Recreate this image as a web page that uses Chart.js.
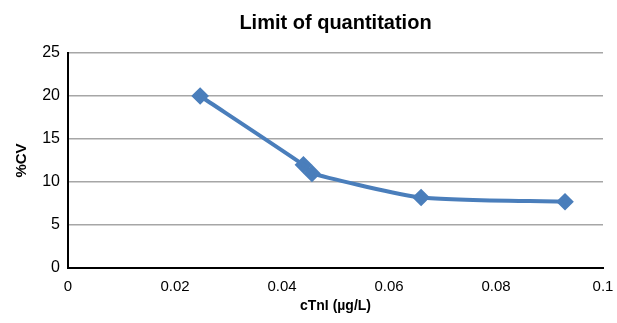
<!DOCTYPE html>
<html>
<head>
<meta charset="utf-8">
<script src="https://cdn.jsdelivr.net/npm/chart.js@4/dist/chart.umd.min.js"></script>
<style>
  html, body { margin: 0; padding: 0; background: #fff; }
  #wrap { width: 617px; height: 323px; }
</style>
</head>
<body>
<div id="wrap"><canvas id="locChart" width="617" height="323"></canvas></div>
<script>
const concentration = [0.0247, 0.0440, 0.0456, 0.0660, 0.0929];
const cvPercent = [20, 12, 11, 8.2, 7.7];
const xTicks = [0, 0.02, 0.04, 0.06, 0.08, 0.1];
const yTicks = [0, 5, 10, 15, 20, 25];

const points = concentration.map((x, i) => ({ x, y: cvPercent[i] }));
const lineBlue = '#4A7EBB';
const font = 'Liberation Sans, Arial, sans-serif';

const ctx = document.getElementById('locChart').getContext('2d');
new Chart(ctx, {
  type: 'scatter',
  data: {
    datasets: [
      {
        label: '%CV',
        data: points,
        showLine: true,
        borderColor: lineBlue,
        backgroundColor: lineBlue,
        borderWidth: 4,
        tension: 0.2,
        pointStyle: 'rectRot',
        pointRadius: 6,
        pointHoverRadius: 6,
      },
    ],
  },
  options: {
    responsive: false,
    animation: false,
    layout: { padding: { left: 0, right: 14, top: 0, bottom: 0 } },
    plugins: {
      legend: { display: false },
      tooltip: { enabled: false },
      title: {
        display: true,
        fullSize: false,
        text: 'Limit of quantitation',
        color: '#000',
        font: { family: font, size: 20, weight: 'bold' },
        padding: { top: 11, bottom: 18 },
      },
    },
    scales: {
      x: {
        type: 'linear',
        min: 0,
        max: 0.1,
        afterBuildTicks: (axis) => { axis.ticks = xTicks.map(v => ({ value: v })); },
        afterFit: (axis) => { axis.height = 55; axis.paddingRight = 0; },
        grid: { display: false, drawTicks: false },
        border: { color: '#000', width: 2 },
        ticks: {
          color: '#000',
          padding: 10,
          maxRotation: 0,
          font: { family: font, size: 15 },
          callback: (v) => String(Math.round(v * 100) / 100),
        },
        title: {
          display: true,
          text: 'cTnI (µg/L)',
          color: '#000',
          font: { family: font, size: 14, weight: 'bold' },
          padding: { top: 4, bottom: 8 },
        },
      },
      y: {
        type: 'linear',
        min: 0,
        max: 25,
        afterBuildTicks: (axis) => { axis.ticks = yTicks.map(v => ({ value: v })); },
        afterFit: (axis) => { axis.width = 68; },
        grid: { color: '#A6A6A6', lineWidth: 1.5, drawTicks: false },
        border: { color: '#000', width: 2 },
        ticks: {
          color: '#000',
          padding: 8,
          font: { family: font, size: 16 },
        },
        title: {
          display: true,
          text: '%CV',
          color: '#000',
          font: { family: font, size: 15, weight: 'bold' },
          padding: { top: 13, bottom: 4 },
        },
      },
    },
  },
});
</script>
</body>
</html>
